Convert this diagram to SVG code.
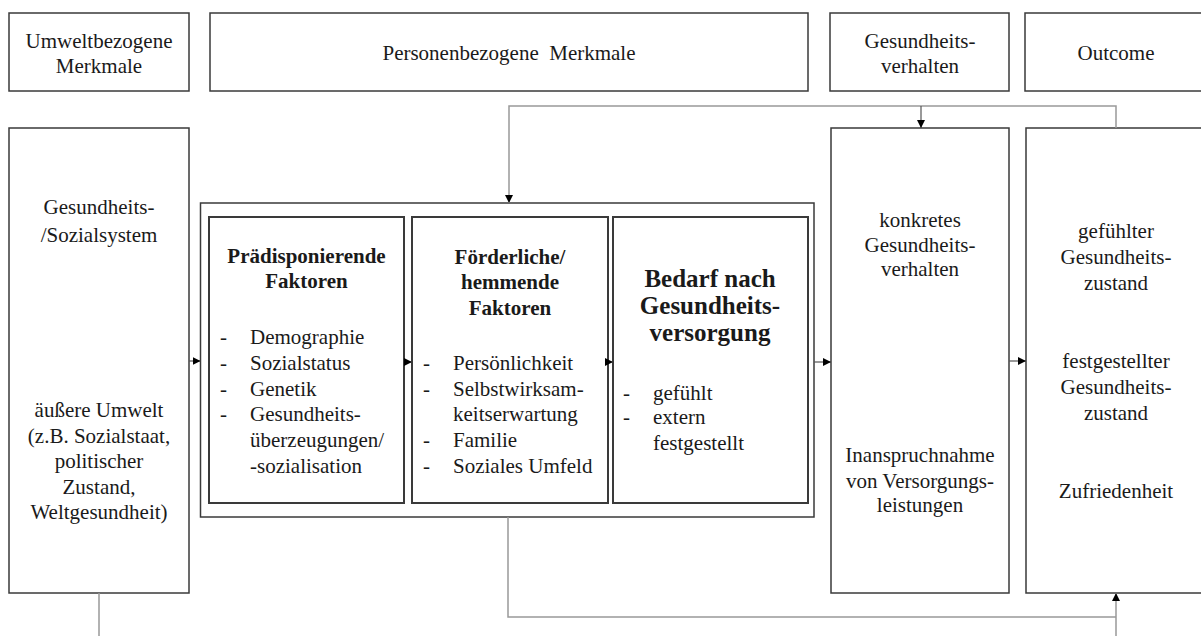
<svg xmlns="http://www.w3.org/2000/svg" width="1201" height="636" viewBox="0 0 1201 636">
<style>
.box{fill:#fff;stroke:#3a3a3a;stroke-width:1.5}
.inner{fill:#fff;stroke:#3a3a3a;stroke-width:2}
.t{font-family:"Liberation Serif","Times New Roman",serif;font-size:21px;fill:#1a1a1a}
.c{text-anchor:middle}
.b{font-weight:bold}
.big{font-size:25px}
.con{fill:none;stroke:#999;stroke-width:1.5}
.conk{fill:none;stroke:#555;stroke-width:1.2}
</style>
<defs>
<marker id="ah" markerUnits="userSpaceOnUse" markerWidth="8" markerHeight="8" refX="8" refY="4" orient="auto">
<path d="M0,0 L8,4 L0,8 z" fill="#000"/>
</marker>
</defs>
<rect width="1201" height="636" fill="#fff"/>

<g id="header-umwelt">
<rect class="box" x="9" y="13" width="180" height="78"/>
<text class="t c" x="99" y="48">Umweltbezogene</text>
<text class="t c" x="99" y="73">Merkmale</text>
</g>
<g id="header-person">
<rect class="box" x="210" y="13" width="598" height="78"/>
<text class="t c" x="509" y="60" xml:space="preserve">Personenbezogene  Merkmale</text>
</g>
<g id="header-verhalten">
<rect class="box" x="830" y="13" width="179" height="78"/>
<text class="t c" x="920" y="48">Gesundheits-</text>
<text class="t c" x="920" y="73">verhalten</text>
</g>
<g id="header-outcome">
<rect class="box" x="1025" y="13" width="181" height="78"/>
<text class="t c" x="1116" y="60">Outcome</text>
</g>

<g id="umwelt">
<rect class="box" x="9" y="128" width="180" height="465"/>
<text class="t c" x="99" y="214">Gesundheits-</text>
<text class="t c" x="99" y="242">/Sozialsystem</text>
<text class="t c" x="99" y="417">äußere Umwelt</text>
<text class="t c" x="99" y="443">(z.B. Sozialstaat,</text>
<text class="t c" x="99" y="468">politischer</text>
<text class="t c" x="99" y="494">Zustand,</text>
<text class="t c" x="99" y="519">Weltgesundheit)</text>
</g>

<g id="person">
<rect class="box" x="200.5" y="203" width="613.5" height="314"/>
</g>
<g id="praedisponierend">
<rect class="inner" x="209" y="217" width="195" height="286"/>
<text class="t c b" x="306.5" y="263">Prädisponierende</text>
<text class="t c b" x="306.5" y="288">Faktoren</text>
<text class="t" x="220" y="344">-</text><text class="t" x="250" y="344">Demographie</text>
<text class="t" x="220" y="370">-</text><text class="t" x="250" y="370">Sozialstatus</text>
<text class="t" x="220" y="396">-</text><text class="t" x="250" y="396">Genetik</text>
<text class="t" x="220" y="421">-</text><text class="t" x="250" y="421">Gesundheits-</text>
<text class="t" x="250" y="447">überzeugungen/</text>
<text class="t" x="250" y="473">-sozialisation</text>
</g>
<g id="foerderlich">
<rect class="inner" x="412" y="217" width="196" height="286"/>
<text class="t c b" x="510" y="264">Förderliche/</text>
<text class="t c b" x="510" y="289">hemmende</text>
<text class="t c b" x="510" y="315">Faktoren</text>
<text class="t" x="423" y="370">-</text><text class="t" x="453" y="370">Persönlichkeit</text>
<text class="t" x="423" y="396">-</text><text class="t" x="453" y="396">Selbstwirksam-</text>
<text class="t" x="453" y="421">keitserwartung</text>
<text class="t" x="423" y="447">-</text><text class="t" x="453" y="447">Familie</text>
<text class="t" x="423" y="473">-</text><text class="t" x="453" y="473">Soziales Umfeld</text>
</g>
<g id="bedarf">
<rect class="inner" x="613" y="217" width="195" height="286"/>
<text class="t c b big" x="710" y="287">Bedarf nach</text>
<text class="t c b big" x="710" y="314">Gesundheits-</text>
<text class="t c b big" x="710" y="341">versorgung</text>
<text class="t" x="623" y="400">-</text><text class="t" x="653" y="400">gefühlt</text>
<text class="t" x="623" y="424">-</text><text class="t" x="653" y="424">extern</text>
<text class="t" x="653" y="450">festgestellt</text>
</g>

<g id="verhalten">
<rect class="box" x="831" y="128" width="178" height="465"/>
<text class="t c" x="920" y="227">konkretes</text>
<text class="t c" x="920" y="252">Gesundheits-</text>
<text class="t c" x="920" y="276">verhalten</text>
<text class="t c" x="920" y="462">Inanspruchnahme</text>
<text class="t c" x="920" y="488">von Versorgungs-</text>
<text class="t c" x="920" y="512">leistungen</text>
</g>

<g id="outcome">
<rect class="box" x="1026" y="128" width="180" height="465"/>
<text class="t c" x="1116" y="238">gefühlter</text>
<text class="t c" x="1116" y="264">Gesundheits-</text>
<text class="t c" x="1116" y="290">zustand</text>
<text class="t c" x="1116" y="368">festgestellter</text>
<text class="t c" x="1116" y="394">Gesundheits-</text>
<text class="t c" x="1116" y="420">zustand</text>
<text class="t c" x="1116" y="498">Zufriedenheit</text>
</g>

<g id="connectors">
<path class="conk" d="M189,361 H200.5" marker-end="url(#ah)"/>
<path class="conk" d="M404,362 H412" marker-end="url(#ah)"/>
<path class="conk" d="M608,362 H613" marker-end="url(#ah)"/>
<path class="conk" d="M814,362 H831" marker-end="url(#ah)"/>
<path class="conk" d="M1009,361 H1026" marker-end="url(#ah)"/>
<path class="con" d="M1116,128 V106 H509 V203" marker-end="url(#ah)"/>
<path class="conk" d="M921,106 V128" marker-end="url(#ah)"/>
<path class="con" d="M508,517 V617 H1116"/>
<path class="con" d="M1116,636 V593" marker-end="url(#ah)"/>
<path class="con" d="M99,593 V636"/>
</g>
</svg>
